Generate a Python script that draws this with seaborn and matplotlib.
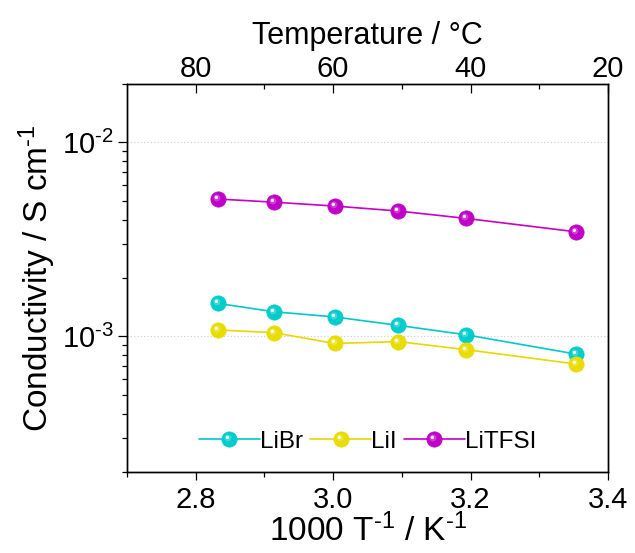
import numpy as np
import pandas as pd
import seaborn as sns
import matplotlib
matplotlib.use("Agg")
import matplotlib.pyplot as plt
from matplotlib.path import Path
from matplotlib.lines import Line2D
from matplotlib.legend_handler import HandlerTuple
from matplotlib.ticker import LogLocator, FixedLocator, NullFormatter, FuncFormatter

# ---- data ----
inv_T = [2.832, 2.914, 3.002, 3.095, 3.193, 3.354]          # 1000/T (K^-1)
libr = [1.48e-3, 1.34e-3, 1.26e-3, 1.14e-3, 1.02e-3, 0.81e-3]
lii = [1.08e-3, 1.045e-3, 0.92e-3, 0.94e-3, 0.855e-3, 0.72e-3]
litfsi = [5.11e-3, 4.92e-3, 4.70e-3, 4.43e-3, 4.06e-3, 3.46e-3]
series_names = ["LiBr", "LiI", "LiTFSI"]
bottom_ticks = [2.8, 3.0, 3.2, 3.4]
bottom_labels = ["2.8", "3.0", "3.2", "3.4"]
top_ticks = [80, 60, 40, 20]
top_minor = [70, 50, 30]

line_colors = {"LiBr": "#00C8CC", "LiI": "#E8D800", "LiTFSI": "#C800C8"}
ball_colors = {"LiBr": "#00CCCC", "LiI": "#E8DC00", "LiTFSI": "#C000C8"}

df = pd.DataFrame({
    "x": inv_T * 3,
    "y": libr + lii + litfsi,
    "salt": sum([[n] * len(inv_T) for n in series_names], []),
})

sns.set_theme(style="white")
plt.rcParams["font.family"] = ["Liberation Sans", "DejaVu Sans"]
plt.rcParams["mathtext.fontset"] = "custom"
plt.rcParams["mathtext.rm"] = "Liberation Sans"
plt.rcParams["mathtext.it"] = "Liberation Sans:italic"
plt.rcParams["mathtext.bf"] = "Liberation Sans:bold"
plt.rcParams["text.color"] = "black"
plt.rcParams["axes.labelcolor"] = "black"
plt.rcParams["xtick.color"] = "black"
plt.rcParams["ytick.color"] = "black"

fig = plt.figure(figsize=(6.35, 5.53), dpi=100)
ax = fig.add_axes([0.2, 0.1465, 0.7575, 0.7015])

MS = 11

sns.lineplot(data=df, x="x", y="y", hue="salt", palette=line_colors,
             hue_order=series_names, ax=ax, linewidth=1.2, legend=False,
             sort=False, zorder=2)

def offset_circle(cx, cy, r):
    circ = Path.circle((cx, cy), r)
    verts = np.vstack([[[1, 1]], [[-1, -1]], circ.vertices])
    codes = np.concatenate([[Path.MOVETO, Path.MOVETO], circ.codes])
    return Path(verts, codes)

hl1 = offset_circle(-0.2, 0.2, 0.45)
hl2 = offset_circle(-0.28, 0.28, 0.22)

def lighten(c, f):
    rgb = np.array(matplotlib.colors.to_rgb(c))
    return tuple(rgb + (1 - rgb) * f)

def ball_lines(c, lc=None):
    base = dict(linestyle="none") if lc is None else dict(color=lc, lw=1.2)
    return [
        Line2D([], [], marker="o", ms=MS, mfc=c, mec=c, mew=0.5, **base),
        Line2D([], [], linestyle="none", marker=hl1, ms=MS,
               mfc=lighten(c, 0.3), mew=0, alpha=0.8),
        Line2D([], [], linestyle="none", marker=hl2, ms=MS,
               mfc="white", mew=0, alpha=0.95),
    ]

handles = []
for name, vals in zip(series_names, [libr, lii, litfsi]):
    c = ball_colors[name]
    ax.plot(inv_T, vals, linestyle="none", marker="o", ms=MS, mfc=c,
            mec=c, mew=0.5, zorder=3)
    ax.plot(inv_T, vals, linestyle="none", marker=hl1, ms=MS,
            mfc=lighten(c, 0.3), mew=0, alpha=0.8, zorder=4)
    ax.plot(inv_T, vals, linestyle="none", marker=hl2, ms=MS,
            mfc="white", mew=0, alpha=0.95, zorder=5)
    handles.append(tuple(ball_lines(c, line_colors[name])))

ax.set_yscale("log")
ax.set_ylim(2e-4, 2e-2)
ax.set_xlim(2.7, 3.4)
ax.xaxis.set_major_locator(FixedLocator(bottom_ticks))
ax.xaxis.set_minor_locator(FixedLocator([2.7, 2.9, 3.1, 3.3]))
ax.set_xticklabels(bottom_labels)
ax.yaxis.set_major_locator(LogLocator(base=10, numticks=10))
ax.yaxis.set_minor_locator(LogLocator(base=10, subs=np.arange(2, 10), numticks=20))
ax.yaxis.set_minor_formatter(NullFormatter())
ax.yaxis.set_major_formatter(FuncFormatter(
    lambda v, p: "10$^{\\text{-}%d}$" % round(-np.log10(v))))

ax.grid(False)
ax.yaxis.grid(True, which="major", linestyle=(0, (1, 2)), color="#cccccc", lw=0.8)

for s in ax.spines.values():
    s.set_color("black")
    s.set_linewidth(1.0)

ax.tick_params(axis="both", which="both", colors="black", labelsize=21)
ax.tick_params(axis="x", which="major", direction="out", length=6, width=0.9, pad=4, bottom=True)
ax.tick_params(axis="x", which="minor", direction="out", length=3.5, width=0.9, bottom=True)
ax.tick_params(axis="y", which="major", direction="out", length=6.5, width=0.9, pad=3, left=True)
ax.tick_params(axis="y", which="minor", direction="out", length=3.5, width=0.9, left=True)

ax.set_xlabel("1000 T$^{\\text{-}1}$ / K$^{\\text{-}1}$", fontsize=24, labelpad=0)
ax.set_ylabel("Conductivity / S cm$^{\\text{-}1}$", fontsize=24, labelpad=3)

ax2 = ax.twiny()
ax2.set_xlim(90, 20)
ax2.xaxis.set_major_locator(FixedLocator(top_ticks))
ax2.xaxis.set_minor_locator(FixedLocator(top_minor))
ax2.set_xticklabels([str(t) for t in top_ticks])
ax2.tick_params(axis="x", which="major", direction="in", length=6.5, width=0.9,
                labelsize=21, pad=1, top=True, colors="black")
ax2.tick_params(axis="x", which="minor", direction="in", length=3.5, width=0.9, top=True)
ax2.set_xlabel("Temperature / °C", fontsize=22, labelpad=8)
ax2.grid(False)
for s in ax2.spines.values():
    s.set_color("black")
    s.set_linewidth(1.0)

leg = ax.legend(handles, series_names, handler_map={tuple: HandlerTuple(ndivide=1, pad=0)},
                loc="lower center", bbox_to_anchor=(0.5, 0.0), ncol=3, frameon=False,
                fontsize=17.5, handlelength=2.5, handletextpad=0.0, columnspacing=0.3,
                borderaxespad=0.4)
for t in leg.get_texts():
    t.set_color("black")

fig.savefig("out.png", dpi=100)
